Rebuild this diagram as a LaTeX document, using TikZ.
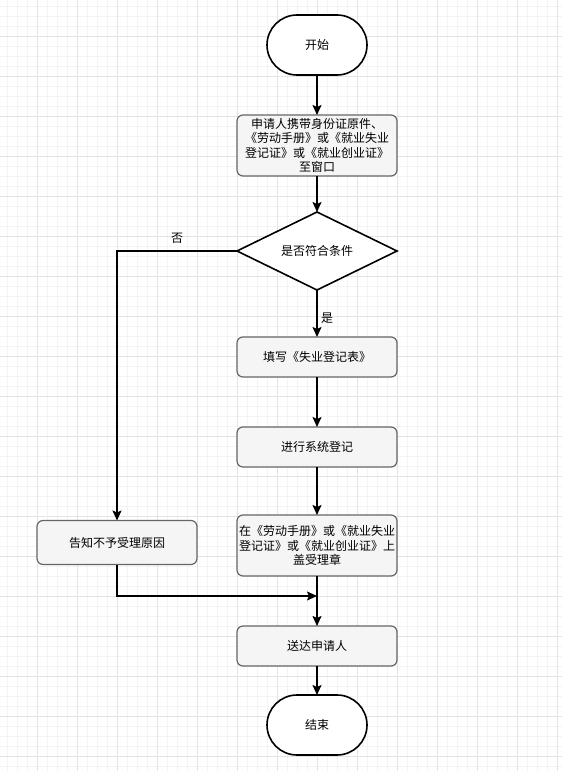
\documentclass[tikz,border=0pt]{standalone}
\usepackage{fontspec}
\newfontfamily\cjk{Noto Sans CJK SC}
\usepackage{xcolor}
\usepackage{tikz}
\usetikzlibrary{arrows.meta,positioning,shapes,calc}

\definecolor{boxfill}{HTML}{F5F5F5}
\definecolor{boxline}{HTML}{666666}
\definecolor{gridmajor}{HTML}{E4E4E4}
\definecolor{gridminor}{HTML}{F4F4F4}

\begin{document}
\begin{tikzpicture}[
    x=1pt, y=-1pt,
    node distance=40pt,
    term/.style={rectangle, draw=black, fill=white, rounded corners=30pt, line width=1.6pt,
                minimum width=100pt, minimum height=60pt, outer sep=0pt,
                font=\cjk\fontsize{12}{14.5}\selectfont},
    box/.style={rectangle, draw=boxline, fill=boxfill, rounded corners=6pt, line width=1.2pt,
                minimum width=160pt, minimum height=40pt, inner sep=1pt, outer sep=0pt, align=center,
                font=\cjk\fontsize{12}{14.5}\selectfont},
    cond/.style={diamond, aspect=2, draw=black, fill=white, line width=1.6pt, inner sep=0pt, outer sep=0pt,
                minimum width=160pt, minimum height=78pt, font=\cjk\fontsize{12}{14.5}\selectfont},
    lbl/.style={font=\cjk\fontsize{12}{14.5}\selectfont},
    arrow/.style={-{Stealth[length=10pt, width=9pt, inset=2pt]}, line width=1.6pt}
]
\useasboundingbox (0,0) rectangle (562,771);
\fill[white] (0,0) rectangle (562,771);
\foreach \x in {7,17,...,557} \draw[gridminor, line width=0.5pt] (\x,0) -- (\x,771);
\foreach \y in {6,16,...,766} \draw[gridminor, line width=0.5pt] (0,\y) -- (562,\y);
\foreach \x in {37,77,...,557} \draw[gridmajor, line width=0.7pt] (\x,0) -- (\x,771);
\foreach \y in {36,76,...,756} \draw[gridmajor, line width=0.7pt] (0,\y) -- (562,\y);

\node[term] (start) at (317,45) {开始};
\node[box, minimum height=61pt, below=40pt of start] (apply) {申请人携带身份证原件、\\《劳动手册》或《就业失业\\登记证》或《就业创业证》\\至窗口};
\node[cond, below=36pt of apply] (check) {是否符合条件};
\node[box, below=47pt of check] (fill) {填写《失业登记表》};
\node[box, below=50pt of fill] (record) {进行系统登记};
\node[box, minimum height=61pt, below=48pt of record] (stamp) {在《劳动手册》或《就业失业\\登记证》或《就业创业证》上\\盖受理章};
\node[box, below=50pt of stamp] (deliver) {送达申请人};
\node[term, below=29pt of deliver] (stop) {结束};
\node[box, minimum height=44pt, left=40pt of stamp, yshift=3pt] (notify) {告知不予受理原因};

\coordinate (join) at ($(stamp.south)!0.4!(deliver.north)$);

\draw[arrow] (start) -- (apply);
\draw[arrow] (apply) -- (check);
\draw[arrow] (check) -- node[pos=0.6, right, lbl] {是} (fill);
\draw[arrow] (check.west) -| node[pos=0.25, above=3pt, lbl] {否} (notify.north);
\draw[arrow] (fill) -- (record);
\draw[arrow] (record) -- (stamp);
\draw[arrow] (stamp) -- (deliver);
\draw[arrow] (deliver) -- (stop);
\draw[arrow] (notify.south) |- (join);
\end{tikzpicture}
\end{document}
